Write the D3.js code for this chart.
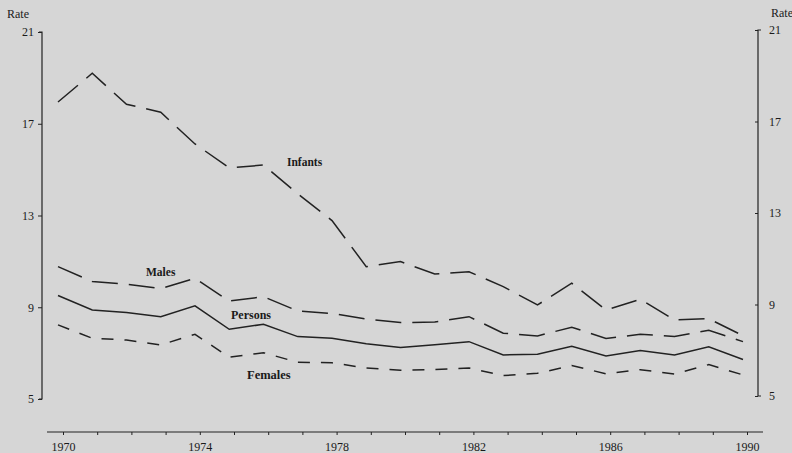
<!DOCTYPE html>
<html>
<head>
<meta charset="utf-8">
<script src="https://cdn.jsdelivr.net/npm/d3@7"></script>
<style>
  html, body { margin: 0; padding: 0; background: #d6d6d6; }
  svg { display: block; }
  text { font-family: "Liberation Serif", "DejaVu Serif", serif; fill: #1a1a1a; }
</style>
</head>
<body>
<svg id="chart" width="792" height="453"></svg>
<script>
const years = d3.range(1970, 1991);
const infants = [17.95, 19.2, 17.85, 17.5, 16.12, 15.08, 15.2, 13.95, 12.78, 10.77, 10.99, 10.45, 10.55, 9.9, 9.1, 10.05, 8.88, 9.35, 8.45, 8.5, 7.76];
const males   = [10.77, 10.12, 10.01, 9.81, 10.26, 9.27, 9.46, 8.84, 8.73, 8.49, 8.33, 8.36, 8.59, 7.87, 7.75, 8.13, 7.64, 7.82, 7.73, 8.0, 7.5];
const persons = [9.51, 8.88, 8.77, 8.59, 9.06, 8.04, 8.26, 7.72, 7.65, 7.41, 7.25, 7.36, 7.5, 6.92, 6.95, 7.3, 6.88, 7.11, 6.92, 7.28, 6.72];
const females = [8.23, 7.65, 7.57, 7.36, 7.82, 6.82, 7.02, 6.6, 6.58, 6.35, 6.25, 6.28, 6.35, 6.02, 6.12, 6.46, 6.1, 6.28, 6.09, 6.5, 6.05];
const yTicks = [5, 9, 13, 17, 21];
const xTickLabels = [1970, 1974, 1978, 1982, 1986, 1990];
const seriesNames = ["Infants", "Males", "Persons", "Females"];

const svg = d3.select("#chart");
const ink = "#222";

const xData = d3.scaleLinear().domain([1970, 1990]).range([58, 743]);
const xAxisScale = d3.scaleLinear().domain([1970, 1990]).range([63, 747]);
const yL = d3.scaleLinear().domain([5, 21]).range([399, 32]);
const yR = d3.scaleLinear().domain([5, 21]).range([396, 30]);

// Left axis
const leftAxis = d3.axisLeft(yL).tickValues(yTicks).tickSize(4).tickPadding(4).tickFormat(d3.format("d"));
const gl = svg.append("g").attr("transform", "translate(42,0)").call(leftAxis);
gl.select(".domain").attr("d", `M-3,${yL(21)}H0V${yL(5)}H-3`);
// Right axis
const rightAxis = d3.axisRight(yR).tickValues(yTicks).tickSizeInner(-3).tickSizeOuter(0).tickPadding(11).tickFormat(d3.format("d"));
const gr = svg.append("g").attr("transform", "translate(758,0)").call(rightAxis);
gr.select(".domain").attr("d", `M3,${yR(21)}H0V${yR(5)}H3`);
// Bottom axis
const bottomAxis = d3.axisBottom(xAxisScale).tickValues(years).tickSizeInner(3).tickSizeOuter(0).tickPadding(7)
  .tickFormat(d => xTickLabels.includes(d) ? d : "");
const gb = svg.append("g").attr("transform", "translate(0,432)").call(bottomAxis);
gb.select(".domain").attr("d", `M47,0H763`);

[gl, gr, gb].forEach(g => {
  g.selectAll(".domain").attr("stroke", ink).attr("stroke-width", 1.2).attr("fill", "none");
  g.selectAll(".tick line").attr("stroke", ink).attr("stroke-width", 1);
  g.selectAll(".tick text").attr("font-size", 12).attr("fill", "#1a1a1a")
    .attr("font-family", '"Liberation Serif", serif');
});

svg.append("text").attr("x", 7).attr("y", 18).attr("font-size", 12).text("Rate");
svg.append("text").attr("x", 771).attr("y", 17).attr("font-size", 12).text("Rate");

const line = d3.line().x((d, i) => xData(years[i])).y(d => yL(d));
const series = [
  { name: seriesNames[0], values: infants, dash: "26,11" },
  { name: seriesNames[1], values: males, dash: "26,11" },
  { name: seriesNames[2], values: persons, dash: null },
  { name: seriesNames[3], values: females, dash: "12,11" }
];
series.forEach(s => {
  svg.append("path").datum(s.values)
    .attr("d", line)
    .attr("fill", "none")
    .attr("stroke", ink)
    .attr("stroke-width", 1.5)
    .attr("stroke-dasharray", s.dash)
    .attr("stroke-linejoin", "miter");
});

const labelPos = [[287, 166], [146, 276], [231, 319], [247, 379]];
const labelSize = [11.5, 11.5, 12, 12.5];
seriesNames.forEach((n, i) => {
  svg.append("text").attr("x", labelPos[i][0]).attr("y", labelPos[i][1])
    .attr("font-size", labelSize[i]).attr("font-weight", "bold").text(n);
});
</script>
</body>
</html>
